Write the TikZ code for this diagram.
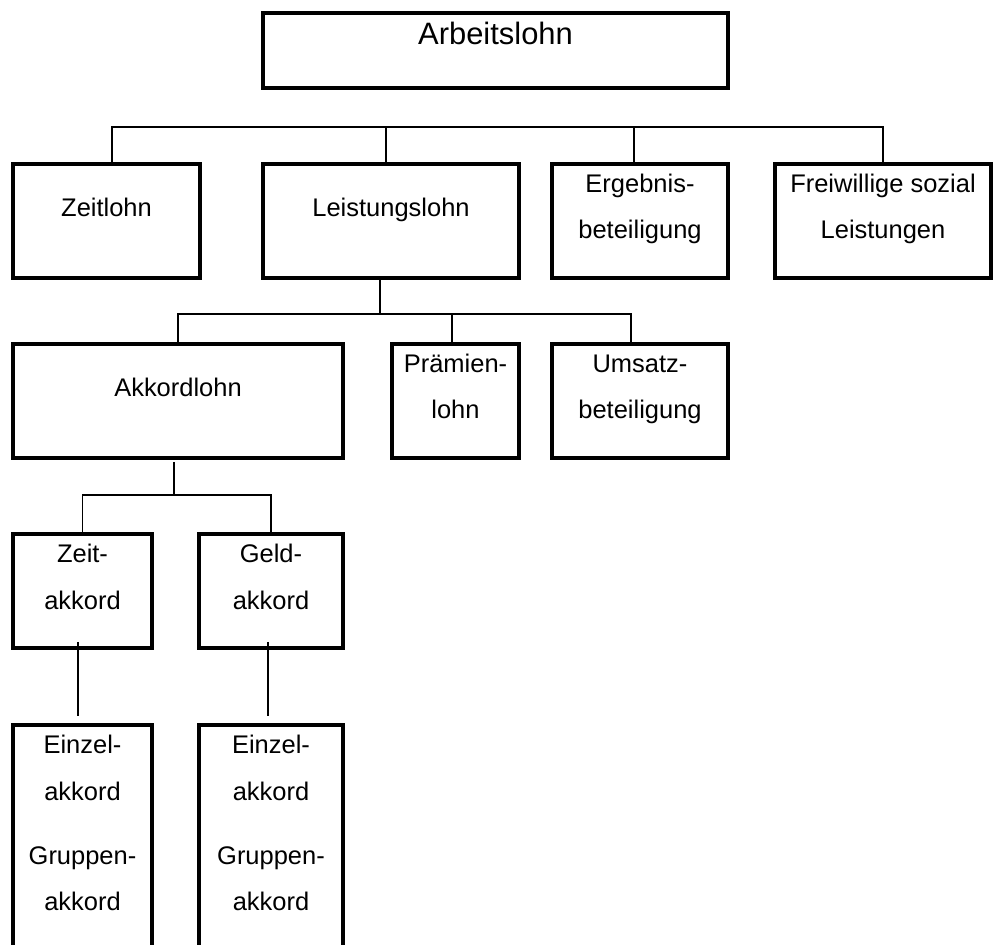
\documentclass[tikz,border=0pt]{standalone}
\usepackage{fontspec}
\setmainfont{Liberation Sans}
\usetikzlibrary{positioning,calc}

\begin{document}
\begin{tikzpicture}[
    x=0.02cm, y=-0.02cm,
    box/.style={rectangle, draw, line width=1.9pt, inner sep=0pt, outer sep=0pt, align=center, font=\fontsize{14.5}{26.7}\selectfont, text height=0.4cm, text depth=0.58cm, minimum height=2.28cm},
    twoline/.style={text height=0.92cm, text depth=0.2cm},
    tallbox/.style={anchor=north, minimum height=4.8cm, text height=2.84cm, text depth=0.2cm},
    conn/.style={line width=0.75pt}
]
\useasboundingbox (0,0) rectangle (993,945);

\node[box, minimum width=9.3cm, minimum height=1.5cm, font=\fontsize{17.6}{21}\selectfont, text depth=0.62cm] (Lohn) at (495.5,50.5) {Arbeitslohn};

\node[box, minimum width=3.74cm] (Zeit) at (106.5,221) {Zeitlohn};
\node[box, minimum width=5.12cm] (Leistung) at (391,221) {Leistungslohn};
\node[box, twoline, minimum width=3.52cm] (Ergebnis) at (640,221) {Ergebnis-\\beteiligung};
\node[box, twoline, minimum width=4.32cm] (Sozial) at (883,221) {Freiwillige sozial\\Leistungen};

\node[box, minimum width=6.6cm] (Akkord) at (178,401) {Akkordlohn};
\node[box, twoline, minimum width=2.54cm] (Praemie) at (455.5,401) {Prämien-\\lohn};
\node[box, twoline, minimum width=3.52cm] (Umsatz) at (640,401) {Umsatz-\\beteiligung};

\node[box, twoline, minimum width=2.78cm] (ZeitAkk) at (82.5,591) {Zeit-\\akkord};
\node[box, twoline, minimum width=2.88cm] (GeldAkk) at (271,591) {Geld-\\akkord};

\node[box, tallbox, minimum width=2.78cm] (ZeitGrp) at (82.5,725) {Einzel-\\akkord\\[0.34cm]Gruppen-\\akkord};
\node[box, tallbox, minimum width=2.88cm] (GeldGrp) at (271,725) {Einzel-\\akkord\\[0.34cm]Gruppen-\\akkord};

% branch lines
\coordinate (Bus1) at (0,127);
\coordinate (Bus2) at (0,314);
\coordinate (Bus3) at (0,495);

\draw[conn] ([xshift=0.11cm]Zeit.north) |- (Bus1 -| Sozial.north) -- (Sozial.north);
\draw[conn] ([xshift=-0.1cm]Leistung.north) -- ++(0,-37);
\draw[conn] ([xshift=-0.12cm]Ergebnis.north) -- ++(0,-37);

\draw[conn] ([xshift=-0.22cm]Leistung.south) -- ++(0,36);
\draw[conn] ([xshift=-0.18cm]Umsatz.north) |- (Bus2 -| Akkord.north) -- (Akkord.north);
\draw[conn] ([xshift=-0.07cm]Praemie.north) -- ++(0,-30);

\draw[conn] ([xshift=-0.08cm,yshift=-0.08cm]Akkord.south) -- ++(0,33);
\draw[conn] (GeldAkk.north) |- (Bus3 -| ZeitAkk.north) -- (ZeitAkk.north);

\draw[conn] ([xshift=-0.09cm,yshift=0.12cm]ZeitAkk.south) -- ([xshift=-0.09cm,yshift=0.18cm]ZeitGrp.north);
\draw[conn] ([xshift=-0.06cm,yshift=0.12cm]GeldAkk.south) -- ([xshift=-0.06cm,yshift=0.18cm]GeldGrp.north);

\end{tikzpicture}
\end{document}
